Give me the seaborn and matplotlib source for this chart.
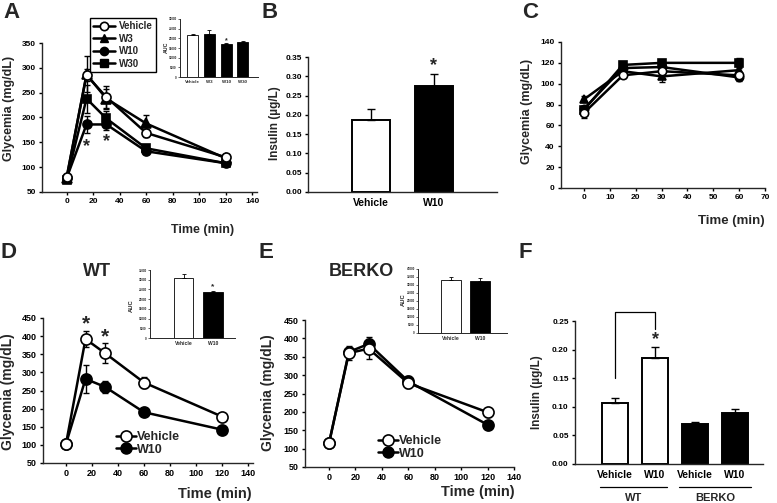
import matplotlib
matplotlib.use("Agg")
import matplotlib.pyplot as plt
from matplotlib.lines import Line2D
import numpy as np
import pandas as pd
import seaborn as sns

W, H = 777, 503

# --------------------------------------------------------------------------
# Data
# --------------------------------------------------------------------------
# A: glucose tolerance, dose response
a_time = [0, 15, 30, 60, 120]
a_vehicle = [80, 285, 241, 169, 120]
a_vehicle_err = [4, 12, 22, 8, 5]
a_w3 = [78, 287, 238, 188, 118]
a_w3_err = [4, 36, 20, 17, 5]
a_w10 = [78, 186, 186, 132, 108]
a_w10_err = [4, 18, 12, 6, 4]
a_w30 = [75, 238, 198, 138, 108]
a_w30_err = [4, 28, 16, 6, 4]
a_auc_labels = ["Vehicle", "W3", "W10", "W30"]
a_auc = [21500, 22200, 17100, 18100]
a_auc_err = [500, 2000, 600, 500]

# B: insulin
b_labels = ["Vehicle", "W10"]
b_insulin = [0.186, 0.276]
b_insulin_err = [0.030, 0.030]

# C: glucose, second test
c_time = [0, 15, 30, 60]
c_vehicle = [72, 108, 112, 108]
c_vehicle_err = [5, 3, 3, 3]
c_w3 = [85, 112, 107, 113]
c_w3_err = [3, 3, 5, 3]
c_w10 = [76, 115, 116, 106]
c_w10_err = [3, 3, 3, 3]
c_w30 = [75, 118, 120, 120]
c_w30_err = [3, 3, 3, 5]

# D: WT mice
d_time = [0, 15, 30, 60, 120]
d_vehicle = [103, 392, 353, 272, 178]
d_vehicle_err = [4, 23, 27, 16, 6]
d_w10 = [103, 282, 260, 190, 142]
d_w10_err = [4, 38, 17, 5, 4]
d_auc_labels = ["Vehicle", "W10"]
d_auc = [31100, 23600]
d_auc_err = [1800, 800]

# E: BERKO mice
e_time = [0, 15, 30, 60, 120]
e_vehicle = [115, 360, 372, 278, 199]
e_vehicle_err = [4, 20, 27, 14, 12]
e_w10 = [115, 363, 385, 283, 165]
e_w10_err = [4, 12, 20, 15, 5]
e_auc_labels = ["Vehicle", "W10"]
e_auc = [33300, 32300]
e_auc_err = [2000, 2000]

# F: insulin, WT vs BERKO
f_genotype = ["WT", "WT", "BERKO", "BERKO"]
f_treatment = ["Vehicle", "W10", "Vehicle", "W10"]
f_insulin = [0.107, 0.185, 0.070, 0.089]
f_insulin_err = [0.009, 0.020, 0.003, 0.008]

# --------------------------------------------------------------------------
sns.set_theme(style="ticks")
plt.rcParams["font.family"] = ["Liberation Sans", "DejaVu Sans"]
plt.rcParams["font.weight"] = "bold"
plt.rcParams["axes.labelweight"] = "bold"
plt.rcParams["axes.linewidth"] = 1.0
plt.rcParams["xtick.major.width"] = 1.0
plt.rcParams["ytick.major.width"] = 1.0
plt.rcParams["xtick.major.size"] = 2.5
plt.rcParams["ytick.major.size"] = 2.5
plt.rcParams["xtick.major.pad"] = 2
plt.rcParams["ytick.major.pad"] = 2

fig = plt.figure(figsize=(W / 100, H / 100), dpi=100)


def px_axes(x0, y0, x1, y1):
    return fig.add_axes([x0 / W, 1 - y1 / H, (x1 - x0) / W, (y1 - y0) / H])


def ftext(x, y, s, size, **kw):
    fig.text(x / W, 1 - y / H, s, fontsize=size, ha="center", va="center",
             fontweight="bold", **kw)


def style_axes(ax, tick_size):
    sns.despine(ax=ax)
    ax.tick_params(labelsize=tick_size, colors="black")
    for lab in ax.get_xticklabels() + ax.get_yticklabels():
        lab.set_fontweight("bold")
    ax.set_xlabel("")
    ax.set_ylabel("")
    ax.set_facecolor("white")


def curve(ax, times, vals, errs, marker, face, ms, z):
    ax.errorbar(times, vals, yerr=errs, fmt="none", ecolor="black",
                elinewidth=1, capsize=2.5, capthick=1, zorder=z - 1)
    sns.lineplot(x=times, y=vals, ax=ax, color="black", lw=1.8, marker=marker,
                 markersize=ms, markerfacecolor=face, markeredgecolor="black",
                 markeredgewidth=1.2, zorder=z)


def bars(ax, keys, values, errs, colors, width, lw, capsize, elw):
    df = pd.DataFrame({"key": keys, "value": values})
    sns.barplot(data=df, x="key", y="value", hue="key",
                palette=dict(zip(keys, colors)), legend=False, width=width,
                edgecolor="black", linewidth=lw, errorbar=None, saturation=1,
                ax=ax)
    ax.errorbar(range(len(values)), values,
                yerr=[np.zeros(len(values)), errs], fmt="none", ecolor="black",
                elinewidth=elw, capsize=capsize, capthick=elw, zorder=3)


def auc_inset(box, labels, values, errs, colors, xlim, ymax, ystep, lab_size, auc_xy):
    ax = px_axes(*box)
    bars(ax, labels, values, errs, colors, 0.66, 0.6, 1.5, 0.6)
    ax.set_xlim(*xlim)
    ax.set_ylim(0, ymax)
    ax.set_yticks(np.arange(0, ymax + 1, ystep))
    ax.set_xticks(range(len(labels)))
    ax.set_xticklabels(labels)
    sns.despine(ax=ax)
    ax.tick_params(axis="y", labelsize=2.2, length=1.2, width=0.5, pad=1)
    ax.tick_params(axis="x", labelsize=lab_size, length=0, pad=2)
    for lab in ax.get_xticklabels() + ax.get_yticklabels():
        lab.set_fontweight("bold")
    for s in ax.spines.values():
        s.set_linewidth(0.7)
    ax.set_xlabel("")
    ax.set_ylabel("")
    ftext(auc_xy[0], auc_xy[1], "AUC", lab_size + 0.6, rotation=90)
    return ax


# --------------------------------------------------------------------------
# A
# --------------------------------------------------------------------------
ax = px_axes(42, 43, 257, 192)
curve(ax, a_time, a_w30, a_w30_err, "s", "black", 6, 4)
curve(ax, a_time, a_w10, a_w10_err, "o", "black", 6.5, 5)
curve(ax, a_time, a_w3, a_w3_err, "^", "black", 6.5, 6)
curve(ax, a_time, a_vehicle, a_vehicle_err, "o", "white", 6.5, 7)
ax.set_xlim(-18.6, 143.7)
ax.set_ylim(50, 350)
ax.set_xticks(range(0, 141, 20))
ax.set_yticks(range(50, 351, 50))
style_axes(ax, 6)
ax.text(15, 141, "*", fontsize=13, ha="center", va="center", fontweight="bold")
ax.text(30, 151, "*", fontsize=13, ha="center", va="center", fontweight="bold")
handles = [
    Line2D([], [], color="black", lw=1.8, marker="o", ms=6, mfc="white", mec="black", mew=1.2),
    Line2D([], [], color="black", lw=1.8, marker="^", ms=6, mfc="black", mec="black"),
    Line2D([], [], color="black", lw=1.8, marker="o", ms=6, mfc="black", mec="black"),
    Line2D([], [], color="black", lw=1.8, marker="s", ms=5.5, mfc="black", mec="black"),
]
leg = ax.legend(handles, ["Vehicle", "W3", "W10", "W30"], loc="upper left",
                bbox_to_anchor=(90 / W, 1 - 18 / H), bbox_transform=fig.transFigure,
                frameon=True, fancybox=False, edgecolor="black", framealpha=1,
                prop={"size": 7, "weight": "bold"}, handlelength=2.2,
                handletextpad=0.4, labelspacing=0.25, borderpad=0.35,
                borderaxespad=0)
leg.get_frame().set_linewidth(1)
ftext(11, 12.5, "A", 16)
ftext(9, 108, "Glycemia (mg/dL)", 9, rotation=90)
ftext(203, 230, "Time (min)", 9)

ia = auc_inset((180, 19, 258, 77), a_auc_labels, a_auc, a_auc_err,
               ["white", "black", "black", "black"], (-0.76, 3.9), 30000, 5000,
               3.2, (166, 47))
ia.text(2, 18900, "*", fontsize=5, ha="center", va="center", fontweight="bold")

# --------------------------------------------------------------------------
# B
# --------------------------------------------------------------------------
ax = px_axes(308, 57, 497, 192)
bars(ax, b_labels, b_insulin, b_insulin_err, ["white", "black"], 0.6, 1.4, 3, 1)
ax.set_xlim(-1, 2)
ax.set_ylim(0, 0.35)
ax.set_yticks(np.arange(0, 0.351, 0.05))
ax.yaxis.set_major_formatter(matplotlib.ticker.FormatStrFormatter("%.2f"))
style_axes(ax, 6)
ax.tick_params(axis="x", labelsize=7.5, length=0, pad=4)
for lab in ax.get_xticklabels():
    lab.set_fontweight("bold")
ax.text(1, 0.328, "*", fontsize=13, ha="center", va="center", fontweight="bold")
ftext(270, 12.5, "B", 16)
ftext(275, 123, "Insulin (\u00b5g/L)", 8.5, rotation=90)

# --------------------------------------------------------------------------
# C
# --------------------------------------------------------------------------
ax = px_axes(561, 42, 765, 188)
curve(ax, c_time, c_w30, c_w30_err, "s", "black", 5.5, 4)
curve(ax, c_time, c_w10, c_w10_err, "o", "black", 6, 5)
curve(ax, c_time, c_w3, c_w3_err, "^", "black", 6, 6)
curve(ax, c_time, c_vehicle, c_vehicle_err, "o", "white", 6, 7)
ax.set_xlim(-8.9, 70)
ax.set_ylim(0, 140)
ax.set_xticks(range(0, 71, 10))
ax.set_yticks(range(0, 141, 20))
style_axes(ax, 6)
ftext(530, 12.5, "C", 16)
ftext(527, 111, "Glycemia (mg/dL)", 9, rotation=90)
ftext(731, 221, "Time (min)", 9.5)

# --------------------------------------------------------------------------
# D
# --------------------------------------------------------------------------
ax = px_axes(43, 318, 253, 463)
curve(ax, d_time, d_w10, d_w10_err, "o", "black", 8, 5)
curve(ax, d_time, d_vehicle, d_vehicle_err, "o", "white", 8, 7)
ax.set_xlim(-17.7, 143.8)
ax.set_ylim(50, 450)
ax.set_xticks(range(0, 141, 20))
ax.set_yticks(range(50, 451, 50))
style_axes(ax, 6.5)
ax.text(15, 434, "*", fontsize=15, ha="center", va="center", fontweight="bold")
ax.text(30, 398, "*", fontsize=15, ha="center", va="center", fontweight="bold")
handles = [
    Line2D([], [], color="black", lw=1.8, marker="o", ms=8, mfc="white", mec="black", mew=1.2),
    Line2D([], [], color="black", lw=1.8, marker="o", ms=8, mfc="black", mec="black"),
]
ax.legend(handles, ["Vehicle", "W10"], loc="upper left",
          bbox_to_anchor=(116 / W, 1 - 431 / H), bbox_transform=fig.transFigure,
          frameon=False, prop={"size": 9, "weight": "bold"}, handlelength=1.6,
          handletextpad=0.1, labelspacing=0.05, borderpad=0, borderaxespad=0)
ftext(8, 252, "D", 16)
ftext(97, 272, "WT", 13)
ftext(8, 392, "Glycemia (mg/dL)", 10, rotation=90)
ftext(215, 494, "Time (min)", 10.5)

idd = auc_inset((150, 270, 235, 338), d_auc_labels, d_auc, d_auc_err,
                ["white", "black"], (-1.14, 1.75), 35000, 5000, 3.6, (131, 306))
idd.text(1, 26400, "*", fontsize=6, ha="center", va="center", fontweight="bold")

# --------------------------------------------------------------------------
# E
# --------------------------------------------------------------------------
ax = px_axes(305, 320, 514, 467)
curve(ax, e_time, e_w10, e_w10_err, "o", "black", 8, 5)
curve(ax, e_time, e_vehicle, e_vehicle_err, "o", "white", 8, 7)
ax.set_xlim(-18.2, 140)
ax.set_ylim(50, 450)
ax.set_xticks(range(0, 141, 20))
ax.set_yticks(range(50, 451, 50))
style_axes(ax, 6.5)
ax.legend(handles, ["Vehicle", "W10"], loc="upper left",
          bbox_to_anchor=(378 / W, 1 - 435 / H), bbox_transform=fig.transFigure,
          frameon=False, prop={"size": 9, "weight": "bold"}, handlelength=1.6,
          handletextpad=0.1, labelspacing=0.05, borderpad=0, borderaxespad=0)
ftext(266, 252, "E", 16)
ftext(361, 272, "BERKO", 13)
ftext(268, 393, "Glycemia (mg/dL)", 10, rotation=90)
ftext(478, 492, "Time (min)", 10.5)

auc_inset((418, 269, 507, 333), e_auc_labels, e_auc, e_auc_err,
          ["white", "black"], (-1.14, 1.93), 40000, 5000, 3.6, (403, 300))

# --------------------------------------------------------------------------
# F
# --------------------------------------------------------------------------
ax = px_axes(575, 321, 763, 464)
f_keys = [g + " " + t for g, t in zip(f_genotype, f_treatment)]
f_colors = ["white" if g == "WT" else "black" for g in f_genotype]
bars(ax, f_keys, f_insulin, f_insulin_err, f_colors, 0.63, 1.4, 3, 1)
ax.set_xlim(-1, 3.7)
ax.set_ylim(0, 0.25)
ax.set_yticks(np.arange(0, 0.251, 0.05))
ax.yaxis.set_major_formatter(matplotlib.ticker.FormatStrFormatter("%.2f"))
ax.set_xticks(range(4))
ax.set_xticklabels(f_treatment)
style_axes(ax, 6)
ax.tick_params(axis="x", labelsize=7.5, length=0, pad=4)
for lab in ax.get_xticklabels():
    lab.set_fontweight("bold")
ax.plot([0, 0, 1, 1], [0.150, 0.266, 0.266, 0.236], color="black", lw=0.9,
        clip_on=False)
ax.text(1, 0.218, "*", fontsize=13, ha="center", va="center", fontweight="bold")
trans = ax.get_xaxis_transform()
for x0, x1, name in [(-0.38, 1.3, "WT"), (1.6, 3.4, "BERKO")]:
    ax.plot([x0, x1], [-0.16, -0.16], transform=trans, color="black", lw=0.9,
            clip_on=False)
    ax.text((x0 + x1) / 2, -0.24, name, transform=trans, fontsize=8, ha="center",
            va="center", fontweight="bold")
ftext(525, 252, "F", 16)
ftext(537, 392, "Insulin (\u00b5g/L)", 8.5, rotation=90)

fig.savefig("out.png", dpi=100, facecolor="white")
